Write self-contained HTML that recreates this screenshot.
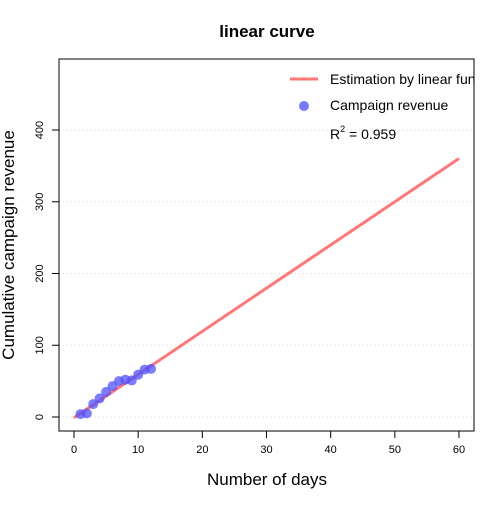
<!DOCTYPE html>
<html><head><meta charset="utf-8"><style>
body{margin:0;background:#fff;}
svg{font-family:"Liberation Sans",sans-serif;}
</style></head><body>
<svg id="c" width="504" height="504"></svg>
<script>
const xTicks=[0,10,20,30,40,50,60];
const yTicks=[0,100,200,300,400];
const days=[1,2,3,4,5,6,7,8,9,10,11,12];
const revenue=[4,5,18,26,35,43,50,52,51,59,66,67];
const fitIntercept=-1;
const fitSlope=6.02;
const fitRange=[0,60];
const r2="0.959";

const NS="http://www.w3.org/2000/svg";
const svg=document.getElementById('c');
function X(v){return 74+v*(459-74)/60;}
function Y(v){return 417-v*(417-130)/400;}
function el(t,a,txt){const e=document.createElementNS(NS,t);for(const k in a)e.setAttribute(k,a[k]);if(txt!==undefined)e.textContent=txt;svg.appendChild(e);return e;}

let e=el('text',{x:267,y:37,'text-anchor':'middle','font-size':17,'font-weight':'bold'},'linear curve');



yTicks.forEach(v=>{
 const g=el('line',{x1:59,x2:474,y1:Y(v),y2:Y(v),stroke:'#ddd','stroke-dasharray':'1,3'});
 
 
 const t=el('line',{x1:52,x2:59,y1:Y(v),y2:Y(v),stroke:'#000'});
 
 
 const l=el('text',{x:43,y:Y(v),'font-size':11,'text-anchor':'middle',transform:`rotate(-90 43 ${Y(v)})`},String(v));
 
 
});
xTicks.forEach(v=>{
 const t=el('line',{x1:X(v),x2:X(v),y1:431,y2:438,stroke:'#000'});
 
 
 const l=el('text',{x:X(v),y:453,'font-size':11,'text-anchor':'middle'},String(v));
 
 
});
const fit=el('line',{x1:X(fitRange[0]),y1:Y(fitIntercept+fitSlope*fitRange[0]),x2:X(fitRange[1]),y2:Y(fitIntercept+fitSlope*fitRange[1]),stroke:'#ff7777','stroke-width':3});


days.forEach((d,i)=>{
 const p=el('circle',{cx:X(d),cy:Y(revenue[i]),r:5,fill:'rgba(80,80,255,0.75)'});
 
 
});
const box=el('rect',{x:59,y:59,width:415,height:372,fill:'none',stroke:'#000'});



// legend
const lg=el('line',{x1:290,x2:318,y1:79,y2:79,stroke:'#ff7777','stroke-width':3});


const clip=el('clipPath',{id:'cp'});
const cr=document.createElementNS(NS,'rect');cr.setAttribute('x',0);cr.setAttribute('y',0);cr.setAttribute('width',474);cr.setAttribute('height',504);clip.appendChild(cr);
const lt=el('text',{x:330,y:84,'font-size':14,'clip-path':'url(#cp)'},'Estimation by linear function');


const lc=el('circle',{cx:304,cy:106,r:5,fill:'rgba(120,120,255,1)'});


const lt2=el('text',{x:330,y:110,'font-size':14},'Campaign revenue');


const r=el('text',{x:330,y:139,'font-size':14},'');
r.innerHTML='R<tspan font-size="9" dy="-7">2</tspan><tspan dy="7"> = '+r2+'</tspan>';



const xt=el('text',{x:267,y:485,'font-size':17,'text-anchor':'middle'},'Number of days');


const yt=el('text',{x:14,y:245,'font-size':17,'text-anchor':'middle',transform:'rotate(-90 14 245)'},'Cumulative campaign revenue');


</script>
</body></html>
